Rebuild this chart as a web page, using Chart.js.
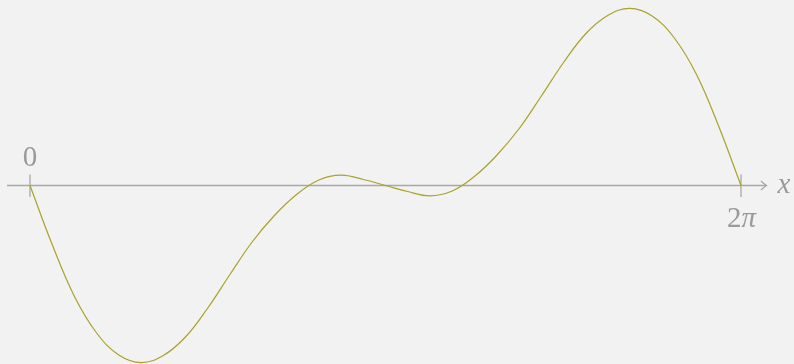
<!DOCTYPE html>
<html>
<head>
<meta charset="utf-8">
<script src="https://cdn.jsdelivr.net/npm/chart.js@4/dist/chart.umd.min.js"></script>
<style>
  html, body { margin: 0; padding: 0; background: #f2f2f2; }
  #wrap { width: 794px; height: 364px; position: relative; }
</style>
</head>
<body>
<div id="wrap"><canvas id="c"></canvas></div>
<script>
// x positions (radians) along [0, 2π]
const xValues = [0, 0.196, 0.393, 0.589, 0.785, 0.982, 1.178, 1.374, 1.571, 1.767,
  1.963, 2.160, 2.356, 2.553, 2.749, 2.945, 3.142, 3.338, 3.534, 3.731,
  3.927, 4.123, 4.320, 4.516, 4.712, 4.909, 5.105, 5.301, 5.498, 5.694,
  5.890, 6.087, 6.283];
// curve values
const yValues = [0, -0.59, -1.11, -1.475, -1.695, -1.771, -1.70, -1.515, -1.225, -0.89,
  -0.565, -0.30, -0.09, 0.055, 0.103, 0.06, 0, -0.06, -0.103, -0.055,
  0.09, 0.30, 0.565, 0.89, 1.225, 1.515, 1.70, 1.771, 1.695, 1.475,
  1.11, 0.59, 0];
const tickValues = [0, 6.283];
const tickLabels = ['0', '2π'];
const axisLabel = 'x';

const SERIF = '"Liberation Serif", "DejaVu Serif", serif';

function drawMathLabel(ctx, text, cx, baseline) {
  // digits upright, Greek letters italic (math style), centred on cx
  const parts = Array.from(text).map((ch) => ({
    ch, font: /[0-9]/.test(ch) ? '29px ' + SERIF : 'italic 29px ' + SERIF
  }));
  let total = 0;
  parts.forEach((p) => { ctx.font = p.font; p.w = ctx.measureText(p.ch).width; total += p.w; });
  let x = cx - total / 2;
  ctx.textAlign = 'left';
  parts.forEach((p) => { ctx.font = p.font; ctx.fillText(p.ch, x, baseline); x += p.w; });
}

const axisPlugin = {
  id: 'axisPlugin',
  beforeDraw(chart) {
    const ctx = chart.ctx;
    ctx.save();
    ctx.fillStyle = '#f2f2f2';
    ctx.fillRect(0, 0, chart.width, chart.height);
    ctx.restore();
  },
  beforeDatasetsDraw(chart) {
    const ctx = chart.ctx;
    const xs = chart.scales.x, ys = chart.scales.y;
    const y0 = ys.getPixelForValue(0);
    const xStart = xs.getPixelForValue(tickValues[0]) - 23;
    const xEnd = xs.getPixelForValue(tickValues[tickValues.length - 1]) + 25.5;
    ctx.save();
    ctx.strokeStyle = '#a8a8a8';
    ctx.lineWidth = 1.3;
    ctx.beginPath();
    ctx.moveTo(xStart, y0);
    ctx.lineTo(xEnd, y0);
    ctx.stroke();
    // arrow head
    ctx.beginPath();
    ctx.moveTo(xEnd - 5.5, y0 - 4.5);
    ctx.quadraticCurveTo(xEnd - 2, y0 - 1.2, xEnd, y0);
    ctx.quadraticCurveTo(xEnd - 2, y0 + 1.2, xEnd - 5.5, y0 + 4.5);
    ctx.stroke();
    // ticks
    tickValues.forEach((v) => {
      const px = xs.getPixelForValue(v);
      ctx.beginPath();
      ctx.moveTo(px, y0 - 11);
      ctx.lineTo(px, y0 + 11.5);
      ctx.stroke();
    });
    // labels
    ctx.fillStyle = '#9a9a9a';
    ctx.textBaseline = 'alphabetic';
    tickLabels.forEach((t, i) => {
      const px = xs.getPixelForValue(tickValues[i]);
      if (i === 0) drawMathLabel(ctx, t, px, y0 - 19.5);
      else drawMathLabel(ctx, t, px + 0.5, y0 + 41.5);
    });
    ctx.font = 'italic 29px ' + SERIF;
    ctx.textAlign = 'left';
    ctx.fillText(axisLabel, xEnd + 11, y0 + 7);
    ctx.restore();
  }
};

new Chart(document.getElementById('c'), {
  type: 'line',
  data: {
    datasets: [{
      data: xValues.map((x, i) => ({ x: x, y: yValues[i] })),
      borderColor: '#aaa22a',
      borderWidth: 1.2,
      pointRadius: 0,
      fill: false,
      tension: 0.4
    }]
  },
  options: {
    responsive: true,
    maintainAspectRatio: false,
    animation: false,
    layout: { padding: 0 },
    plugins: { legend: { display: false }, tooltip: { enabled: false } },
    scales: {
      x: { type: 'linear', display: false, min: -0.2651, max: 6.7515 },
      y: { display: false, min: -1.785, max: 1.855 }
    }
  },
  plugins: [axisPlugin]
});
</script>
</body>
</html>
